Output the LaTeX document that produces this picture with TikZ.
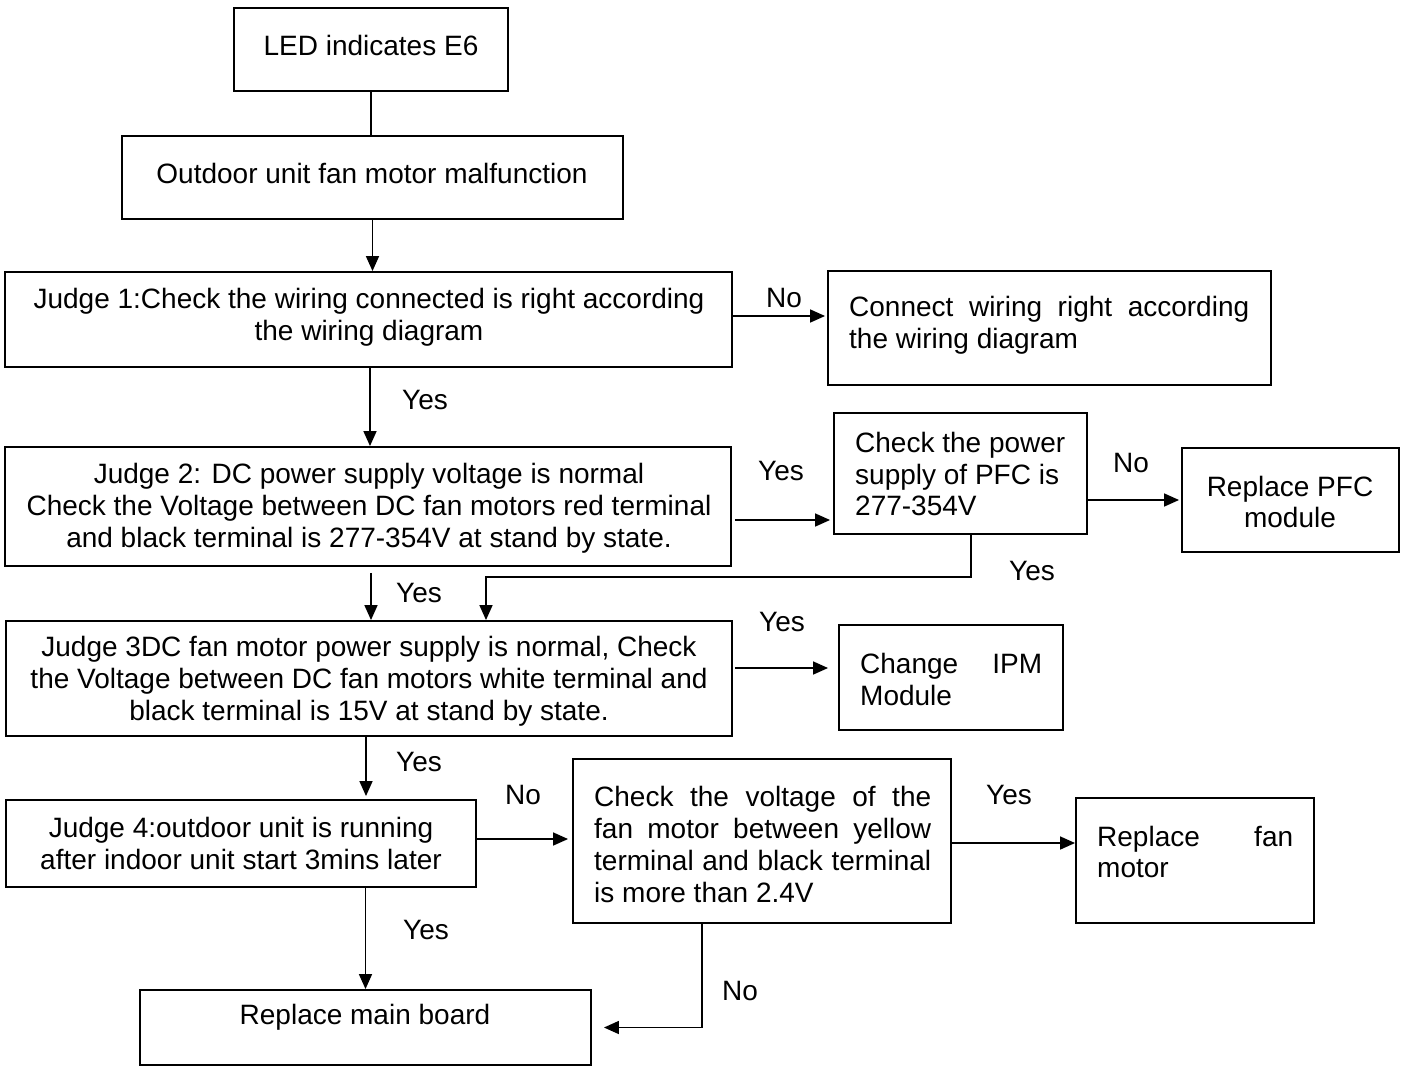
\documentclass[tikz,border=0pt]{standalone}
\usepackage{fontspec}
\setmainfont{Liberation Sans}
\usetikzlibrary{arrows.meta}
\begin{document}
\begin{tikzpicture}[x=1pt,y=-1pt,
  box/.style={draw,line width=1.9pt,minimum width=#1,inner sep=0pt},
  txt/.style={inner sep=0pt,font=\fontsize{28}{31.8}\selectfont},
  lbl/.style={inner sep=0pt,font=\fontsize{28}{31.8}\selectfont},
  conn/.style={line width=1.6pt},
  arr/.style={line width=1.6pt,-{Triangle[length=15pt,width=13pt]}}]
\useasboundingbox[fill=white] (0,0) rectangle (1402,1066);
% boxes
\node[box=274pt,minimum height=83pt] (led) at (371,49.5) {};
\node[box=501pt,minimum height=83pt] (out) at (372.5,177.5) {};
\node[box=727pt,minimum height=95pt] (j1) at (368.5,319.5) {};
\node[box=443pt,minimum height=114pt] (cw) at (1049.5,328) {};
\node[box=726pt,minimum height=119pt] (j2) at (368,506.5) {};
\node[box=253pt,minimum height=121pt] (pfc) at (960.5,473.5) {};
\node[box=217pt,minimum height=104pt] (rpfc) at (1290.5,500) {};
\node[box=726pt,minimum height=115pt] (j3) at (369,678.5) {};
\node[box=224pt,minimum height=105pt] (ipm) at (951,677.5) {};
\node[box=470pt,minimum height=87pt] (j4) at (241,843.5) {};
\node[box=378pt,minimum height=164pt] (chk) at (762,841) {};
\node[box=238pt,minimum height=125pt] (rfan) at (1195,860.5) {};
\node[box=451pt,minimum height=75pt] (main) at (365.5,1027.5) {};
% texts
\node[txt] (tled) at (371,45) {LED indicates E6};
\node[txt] (tout) at (372,173) {Outdoor unit fan motor malfunction};
\node[txt,align=center] (tj1) at (369,317) {Judge 1:Check the wiring connected is right according\\the wiring diagram};
\node[txt,align=left,anchor=west] (tcw) at (849,325.5) {\makebox[400pt][s]{Connect wiring right according}\\the wiring diagram};
\node[txt,align=center] (tj2) at (369,508) {Judge 2: DC power supply voltage is normal\\Check the Voltage between DC fan motors red terminal\\and black terminal is 277-354V at stand by state.};
\node[txt,align=left,anchor=west] (tpfc) at (855,474) {Check the power\\supply of PFC is\\277-354V};
\node[txt,align=center] (trpfc) at (1290,502) {Replace PFC\\module};
\node[txt,align=center] (tj3) at (369,681) {Judge 3DC fan motor power supply is normal, Check\\the Voltage between DC fan motors white terminal and\\black terminal is 15V at stand by state.};
\node[txt,align=left,anchor=west] (tipm) at (860,679.5) {\makebox[182pt][s]{Change IPM}\\Module};
\node[txt,align=center] (tj4) at (241,843.5) {Judge 4:outdoor unit is running\\after indoor unit start 3mins later};
\node[txt,align=left,anchor=west] (tchk) at (594,844.5) {\makebox[337pt][s]{Check the voltage of the}\\\makebox[337pt][s]{fan motor between yellow}\\\makebox[337pt][s]{terminal and black terminal}\\is more than 2.4V};
\node[txt,align=left,anchor=west] (trfan) at (1097,852) {\makebox[196pt][s]{Replace fan}\\motor};
\node[txt] (tmain) at (365,1017) {Replace main board};
% labels
\node[lbl] (l1) at (784,298) {No};
\node[lbl] (l2) at (425,400) {Yes};
\node[lbl] (l3) at (781,471) {Yes};
\node[lbl] (l4) at (1131,463) {No};
\node[lbl] (l5) at (1032,571) {Yes};
\node[lbl] (l6) at (419,593) {Yes};
\node[lbl] (l7) at (782,622) {Yes};
\node[lbl] (l8) at (419,762) {Yes};
\node[lbl] (l9) at (523,795) {No};
\node[lbl] (l10) at (1009,795) {Yes};
\node[lbl] (l11) at (426,930) {Yes};
\node[lbl] (l12) at (740,991) {No};
% connectors
\draw[conn] (led.south) -- (led.south |- out.north);
\draw[arr] (out.south) -- (out.south |- j1.north);
\draw[arr,shorten >=2pt] ([yshift=3.5pt]j1.east) -- ([yshift=3.5pt]j1.east -| cw.west);
\draw[arr] ([xshift=1.5pt]j1.south) -- ([xshift=1.5pt]j1.south |- j2.north);
\draw[arr,shorten <=3pt,shorten >=3pt] ([yshift=-13.5pt]j2.east) -- ([yshift=-13.5pt]j2.east -| pfc.west);
\draw[arr,shorten >=2pt] (pfc.east |- rpfc.west) -- (rpfc.west);
\draw[arr] ([xshift=10.5pt]pfc.south) -- ++(0,42) -| ([xshift=117pt]j3.north);
\draw[arr,shorten <=6pt] ([xshift=3pt]j2.south) -- ([xshift=3pt]j2.south |- j3.north);
\draw[arr,shorten <=2pt,shorten >=10pt] ([yshift=10.5pt]j3.east) -- ([yshift=10.5pt]j3.east -| ipm.west);
\draw[arr,shorten >=3pt] ([xshift=-3pt]j3.south) -- ([xshift=-3pt]j3.south |- j4.north);
\draw[arr,shorten >=4pt] ([yshift=4.5pt]j4.east) -- ([yshift=4.5pt]j4.east -| chk.west);
\draw[arr] ([yshift=-2pt]chk.east) -- ([yshift=-2pt]chk.east -| rfan.west);
\draw[arr] (j4.south -| main.north) -- (main.north);
\draw[arr,shorten >=12pt] ([xshift=-60pt]chk.south) |- (main.east);
\end{tikzpicture}
\end{document}
